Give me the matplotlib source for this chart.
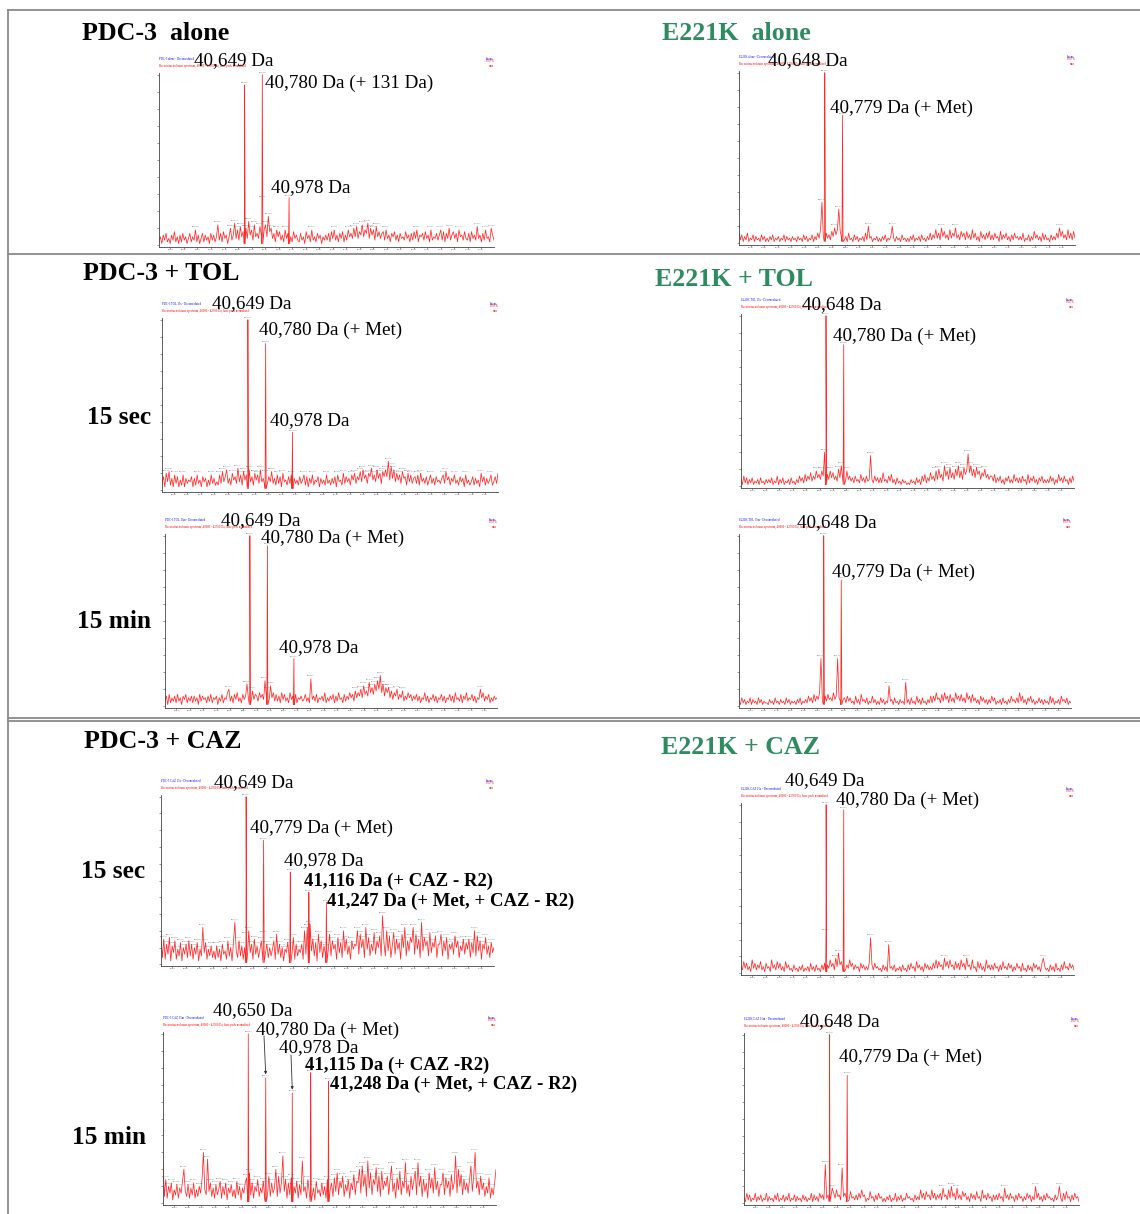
import numpy as np
import matplotlib.pyplot as plt
from matplotlib.lines import Line2D

W, H = 1140, 1214
MASS_MIN, MASS_MAX = 40015, 42495
GREEN = '#2e8b5f'
RED = '#ff2a2a'

# baseline noise, % of base peak, 240 evenly spaced points
noise_pdc3_alone = [
    2, 5, 1, 6, 3, 7, 2, 4, 1, 6, 3, 8, 2, 5, 1, 6, 2, 7, 3, 5,
    1, 4, 7, 2, 5, 3, 9, 2, 6, 1, 4, 7, 2, 6, 3, 5, 1, 7, 3, 6,
    2, 5, 12, 3, 7, 2, 8, 4, 6, 1, 5, 10, 3, 6, 13, 4, 9, 3, 11, 5,
    8, 3, 10, 4, 14, 6, 9, 3, 12, 5, 7, 4, 11, 6, 27, 9, 12, 5, 17, 8,
    10, 4, 7, 2, 9, 5, 8, 3, 6, 2, 9, 4, 7, 3, 5, 2, 8, 4, 6, 3,
    2, 7, 3, 5, 1, 8, 4, 6, 2, 9, 3, 5, 2, 7, 4, 6, 1, 5, 3, 6,
    3, 7, 2, 8, 4, 9, 3, 6, 2, 7, 4, 8, 2, 6, 3, 9, 5, 7, 4, 10,
    5, 11, 4, 8, 6, 12, 5, 9, 7, 13, 4, 10, 6, 9, 3, 11, 5, 8, 4, 7,
    8, 3, 9, 4, 6, 2, 7, 5, 8, 3, 6, 2, 7, 4, 5, 3, 8, 4, 6, 2,
    7, 3, 8, 4, 9, 2, 6, 5, 7, 3, 8, 4, 6, 2, 9, 3, 5, 4, 7, 3,
    6, 9, 3, 8, 2, 7, 4, 10, 3, 6, 8, 4, 7, 2, 9, 5, 6, 3, 8, 4,
    3, 7, 2, 8, 4, 6, 3, 11, 4, 6, 2, 7, 3, 9, 4, 5, 2, 10, 6, 3]
noise_e221k_alone = [
    7, 2, 5, 1, 4, 2, 6, 1, 3, 2, 5, 1, 4, 2, 3, 1, 5, 2, 4, 1,
    3, 1, 4, 2, 5, 1, 3, 2, 4, 1, 3, 2, 5, 1, 4, 2, 3, 1, 4, 2,
    3, 1, 4, 2, 3, 1, 5, 2, 4, 1, 3, 2, 5, 1, 4, 2, 6, 3, 8, 24,
    4, 2, 6, 3, 5, 2, 7, 4, 9, 5, 8, 20, 7, 3, 5, 2, 4, 1, 6, 2,
    3, 1, 5, 2, 4, 1, 3, 2, 4, 1, 6, 2, 10, 3, 4, 1, 3, 2, 4, 1,
    3, 1, 4, 2, 5, 1, 3, 2, 4, 10, 3, 1, 4, 2, 3, 1, 5, 2, 3, 1,
    3, 1, 4, 2, 5, 1, 3, 2, 4, 1, 5, 2, 3, 1, 4, 2, 6, 2, 5, 3,
    8, 3, 6, 2, 9, 4, 7, 3, 5, 2, 8, 3, 6, 4, 9, 3, 5, 2, 7, 4,
    6, 2, 7, 3, 5, 2, 8, 3, 6, 2, 4, 1, 7, 3, 5, 2, 6, 3, 7, 2,
    5, 2, 6, 3, 4, 1, 7, 2, 5, 3, 6, 2, 4, 1, 5, 2, 6, 3, 4, 2,
    4, 2, 6, 1, 3, 2, 5, 1, 4, 2, 7, 3, 5, 2, 4, 1, 6, 2, 5, 2,
    3, 1, 5, 2, 4, 2, 6, 3, 9, 4, 7, 3, 5, 2, 8, 3, 6, 2, 7, 3]
noise_pdc3_tol_sec = [
    4, 8, 2, 10, 5, 11, 3, 7, 2, 9, 4, 8, 2, 6, 3, 9, 2, 7, 4, 6,
    5, 8, 2, 7, 3, 9, 4, 6, 2, 8, 5, 7, 2, 6, 3, 9, 4, 7, 3, 5,
    3, 9, 4, 11, 5, 8, 12, 4, 7, 3, 10, 6, 8, 4, 13, 5, 9, 3, 11, 6,
    9, 4, 12, 5, 8, 3, 10, 6, 9, 4, 12, 5, 7, 3, 10, 4, 8, 5, 11, 4,
    7, 3, 9, 4, 8, 2, 10, 5, 6, 3, 8, 4, 9, 2, 7, 4, 6, 3, 8, 4,
    6, 9, 3, 8, 2, 7, 4, 9, 3, 6, 5, 8, 2, 7, 4, 6, 3, 9, 4, 6,
    3, 7, 4, 8, 2, 9, 5, 6, 3, 10, 4, 8, 5, 7, 3, 9, 6, 10, 4, 8,
    6, 11, 5, 12, 7, 9, 4, 10, 8, 13, 6, 9, 5, 12, 7, 10, 4, 11, 8, 12,
    8, 17, 6, 14, 7, 12, 5, 10, 6, 9, 4, 11, 7, 8, 3, 10, 5, 9, 4, 7,
    8, 4, 9, 3, 10, 5, 7, 4, 8, 3, 6, 9, 4, 7, 3, 8, 5, 6, 4, 7,
    9, 4, 11, 6, 8, 3, 7, 5, 9, 4, 6, 3, 8, 5, 7, 2, 9, 4, 6, 3,
    5, 8, 3, 7, 4, 6, 2, 10, 5, 8, 3, 7, 4, 6, 9, 3, 5, 8, 4, 10]
noise_pdc3_tol_min = [
    3, 6, 1, 7, 2, 5, 3, 6, 2, 7, 3, 5, 1, 6, 4, 7, 2, 5, 3, 6,
    2, 6, 3, 5, 1, 7, 3, 6, 4, 5, 2, 6, 3, 7, 2, 5, 4, 6, 1, 5,
    3, 7, 2, 5, 4, 8, 10, 3, 6, 2, 7, 4, 8, 3, 5, 2, 7, 4, 6, 13,
    5, 8, 3, 9, 4, 7, 6, 3, 8, 5, 7, 4, 15, 6, 9, 4, 12, 5, 8, 3,
    7, 3, 6, 2, 8, 4, 7, 3, 5, 2, 8, 4, 6, 3, 7, 2, 5, 4, 6, 3,
    4, 7, 3, 5, 2, 16, 4, 6, 3, 7, 2, 5, 4, 6, 3, 8, 2, 5, 3, 6,
    4, 7, 2, 6, 3, 8, 4, 5, 2, 7, 3, 6, 4, 8, 5, 7, 3, 9, 5, 8,
    6, 10, 5, 12, 7, 9, 6, 14, 8, 11, 7, 13, 9, 15, 10, 18, 8, 13, 6, 11,
    8, 11, 5, 9, 4, 8, 6, 10, 4, 7, 5, 9, 3, 6, 4, 8, 5, 7, 3, 6,
    4, 7, 3, 6, 2, 5, 4, 8, 3, 6, 2, 5, 4, 7, 3, 6, 2, 5, 4, 7,
    3, 6, 2, 5, 4, 7, 3, 6, 2, 8, 4, 5, 3, 7, 2, 6, 4, 8, 3, 5,
    4, 7, 3, 6, 2, 5, 4, 10, 5, 8, 3, 6, 4, 7, 2, 5, 3, 6, 4, 5]
noise_e221k_tol_sec = [
    4, 1, 6, 2, 5, 1, 4, 2, 5, 1, 3, 2, 4, 1, 5, 2, 3, 1, 4, 2,
    4, 2, 5, 1, 3, 2, 6, 1, 4, 2, 5, 1, 3, 2, 4, 1, 5, 2, 3, 1,
    4, 2, 6, 3, 5, 2, 7, 3, 6, 4, 8, 3, 6, 4, 9, 5, 7, 4, 9, 6,
    20, 5, 7, 4, 9, 5, 8, 4, 6, 3, 10, 5, 12, 4, 7, 3, 9, 4, 6, 3,
    5, 2, 6, 3, 4, 2, 7, 3, 5, 2, 6, 3, 4, 18, 4, 2, 6, 3, 5, 2,
    5, 2, 8, 3, 4, 2, 6, 3, 7, 2, 4, 1, 5, 2, 3, 1, 4, 2, 3, 1,
    2, 1, 4, 2, 3, 1, 5, 2, 4, 1, 6, 3, 7, 2, 5, 3, 8, 4, 6, 3,
    9, 4, 10, 5, 7, 3, 12, 6, 9, 4, 11, 5, 8, 4, 10, 6, 12, 5, 9, 4,
    11, 7, 9, 19, 8, 12, 6, 10, 5, 11, 7, 9, 4, 8, 6, 10, 5, 7, 4, 6,
    6, 3, 7, 2, 5, 3, 6, 2, 4, 1, 5, 3, 6, 2, 4, 2, 7, 3, 5, 2,
    5, 2, 6, 3, 4, 1, 7, 2, 5, 3, 6, 2, 4, 1, 5, 3, 6, 2, 4, 2,
    4, 2, 6, 3, 5, 1, 4, 2, 7, 3, 5, 2, 6, 3, 4, 1, 5, 2, 6, 3]
noise_e221k_tol_min = [
    3, 1, 5, 2, 4, 1, 3, 2, 5, 1, 4, 2, 3, 1, 5, 2, 4, 1, 3, 2,
    2, 1, 4, 2, 3, 1, 5, 2, 3, 1, 4, 2, 3, 1, 5, 2, 4, 1, 3, 2,
    3, 1, 4, 2, 5, 1, 3, 2, 4, 2, 6, 3, 5, 2, 7, 3, 6, 4, 8, 28,
    4, 2, 6, 3, 7, 4, 5, 3, 8, 4, 6, 28, 5, 3, 7, 4, 5, 2, 6, 3,
    5, 2, 3, 1, 6, 2, 4, 1, 7, 3, 4, 2, 5, 1, 3, 2, 6, 2, 4, 1,
    3, 1, 5, 2, 4, 1, 3, 2, 12, 3, 4, 1, 5, 2, 3, 1, 4, 2, 3, 1,
    14, 2, 4, 1, 5, 2, 3, 1, 6, 2, 4, 1, 5, 2, 3, 1, 4, 2, 6, 2,
    6, 3, 8, 4, 5, 2, 7, 3, 8, 4, 6, 2, 7, 3, 5, 2, 8, 4, 6, 3,
    7, 3, 5, 2, 8, 4, 6, 2, 7, 3, 5, 2, 4, 1, 6, 3, 5, 2, 4, 1,
    4, 2, 6, 3, 5, 1, 3, 2, 4, 1, 5, 2, 3, 1, 4, 2, 6, 3, 4, 2,
    5, 2, 8, 3, 6, 2, 4, 1, 5, 3, 6, 2, 4, 1, 3, 2, 5, 2, 4, 1,
    4, 2, 3, 1, 6, 2, 5, 1, 3, 2, 4, 1, 6, 3, 4, 2, 5, 1, 3, 2]
noise_pdc3_caz_sec = [
    18, 4, 15, 3, 12, 6, 16, 2, 11, 7, 14, 3, 9, 5, 13, 2, 10, 6, 12, 4,
    14, 5, 12, 3, 10, 6, 13, 2, 9, 5, 22, 7, 13, 3, 9, 5, 11, 4, 8, 3,
    11, 4, 9, 2, 12, 6, 8, 3, 14, 5, 10, 2, 13, 25, 8, 4, 14, 5, 11, 3,
    10, 17, 5, 20, 7, 12, 3, 15, 6, 11, 4, 9, 14, 3, 18, 7, 12, 4, 10, 5,
    9, 14, 3, 18, 6, 12, 4, 10, 2, 9, 7, 13, 4, 11, 6, 16, 3, 12, 5, 9,
    7, 12, 3, 20, 6, 22, 4, 24, 8, 15, 5, 13, 2, 18, 7, 14, 4, 11, 6, 10,
    8, 18, 5, 14, 9, 12, 3, 16, 7, 13, 4, 20, 8, 15, 6, 11, 3, 14, 9, 12,
    11, 20, 6, 18, 10, 15, 4, 22, 9, 16, 5, 12, 8, 19, 6, 14, 10, 17, 5, 29,
    13, 5, 20, 8, 17, 4, 11, 19, 6, 15, 9, 13, 3, 18, 10, 22, 5, 14, 8, 16,
    13, 22, 6, 18, 9, 15, 4, 25, 8, 16, 11, 14, 5, 19, 7, 13, 10, 17, 4, 12,
    12, 18, 5, 14, 8, 16, 3, 12, 9, 13, 6, 17, 10, 14, 4, 11, 8, 15, 6, 13,
    9, 15, 4, 13, 7, 20, 5, 17, 8, 14, 3, 12, 9, 16, 6, 11, 4, 13, 7, 10]
noise_e221k_caz_sec = [
    4, 2, 7, 3, 6, 2, 4, 1, 8, 3, 6, 2, 5, 3, 7, 2, 4, 1, 6, 3,
    4, 1, 8, 3, 5, 2, 7, 3, 6, 2, 4, 1, 7, 3, 5, 2, 3, 1, 5, 2,
    3, 1, 4, 2, 5, 1, 3, 2, 4, 1, 6, 2, 4, 1, 5, 2, 3, 1, 5, 2,
    6, 24, 5, 3, 8, 4, 6, 2, 9, 4, 12, 5, 7, 3, 6, 2, 5, 3, 8, 4,
    6, 2, 5, 3, 4, 1, 6, 3, 5, 2, 4, 2, 6, 21, 5, 2, 6, 3, 4, 2,
    3, 1, 5, 2, 4, 1, 17, 3, 4, 2, 5, 1, 3, 2, 4, 1, 5, 2, 3, 1,
    5, 2, 6, 3, 4, 1, 7, 3, 5, 2, 4, 1, 6, 3, 5, 2, 4, 2, 6, 3,
    8, 3, 7, 4, 5, 2, 9, 4, 7, 3, 8, 4, 5, 2, 7, 3, 6, 2, 8, 4,
    6, 2, 9, 4, 5, 2, 8, 3, 4, 1, 7, 3, 6, 2, 4, 1, 8, 3, 5, 2,
    5, 2, 6, 3, 4, 1, 5, 2, 7, 3, 4, 2, 6, 3, 5, 1, 4, 2, 6, 3,
    4, 1, 6, 2, 3, 1, 5, 2, 4, 1, 6, 3, 5, 2, 4, 1, 6, 9, 4, 2,
    3, 1, 5, 2, 4, 1, 6, 2, 3, 1, 5, 2, 7, 3, 4, 2, 6, 3, 5, 2]
noise_pdc3_caz_min = [
    25, 4, 14, 3, 10, 6, 12, 2, 8, 5, 11, 3, 9, 6, 13, 20, 7, 4, 11, 3,
    9, 5, 12, 3, 8, 4, 10, 6, 14, 30, 8, 5, 26, 7, 12, 4, 9, 3, 11, 5,
    8, 13, 3, 10, 5, 12, 2, 9, 6, 11, 4, 8, 3, 13, 5, 10, 2, 9, 6, 12,
    15, 4, 18, 5, 12, 3, 10, 7, 14, 4, 9, 6, 13, 3, 11, 5, 16, 4, 12, 6,
    9, 20, 4, 16, 6, 12, 28, 7, 14, 3, 12, 5, 15, 4, 10, 6, 13, 3, 11, 5,
    25, 7, 10, 3, 14, 6, 11, 4, 9, 2, 13, 6, 8, 4, 12, 5, 10, 3, 14, 6,
    8, 12, 4, 15, 7, 18, 5, 13, 9, 16, 4, 11, 7, 14, 3, 12, 8, 17, 5, 13,
    12, 20, 6, 22, 10, 17, 4, 25, 9, 18, 5, 14, 11, 21, 7, 16, 4, 19, 8, 13,
    10, 16, 5, 14, 22, 7, 12, 3, 15, 8, 19, 5, 13, 9, 24, 6, 11, 4, 16, 8,
    13, 19, 5, 24, 10, 16, 4, 14, 7, 12, 3, 18, 9, 15, 6, 21, 8, 13, 4, 11,
    11, 18, 5, 15, 9, 13, 4, 17, 8, 12, 28, 6, 20, 10, 17, 5, 14, 8, 12, 6,
    14, 22, 7, 16, 30, 9, 13, 5, 16, 8, 12, 4, 10, 6, 15, 3, 9, 5, 12, 20]
noise_e221k_caz_min = [
    3, 1, 6, 2, 5, 1, 3, 2, 6, 1, 4, 2, 5, 1, 3, 2, 6, 1, 4, 2,
    3, 1, 5, 2, 6, 1, 3, 2, 5, 1, 4, 2, 6, 1, 3, 2, 5, 1, 4, 2,
    3, 1, 5, 2, 4, 1, 3, 2, 6, 1, 5, 2, 4, 1, 6, 3, 5, 2, 23, 3,
    5, 2, 4, 9, 6, 3, 8, 4, 5, 2, 21, 4, 6, 3, 5, 2, 7, 3, 4, 2,
    5, 2, 6, 3, 8, 4, 5, 1, 3, 2, 7, 3, 4, 1, 5, 2, 6, 3, 4, 1,
    3, 1, 4, 2, 5, 1, 3, 2, 6, 1, 4, 2, 5, 1, 3, 2, 6, 3, 4, 2,
    3, 1, 5, 2, 4, 2, 8, 3, 6, 2, 7, 4, 5, 2, 8, 3, 6, 2, 5, 3,
    6, 2, 9, 4, 5, 2, 8, 3, 10, 4, 6, 2, 9, 3, 5, 2, 7, 4, 6, 2,
    4, 1, 6, 3, 5, 2, 7, 3, 4, 1, 8, 3, 5, 2, 6, 3, 4, 1, 5, 2,
    5, 2, 6, 3, 4, 1, 9, 3, 5, 2, 6, 3, 4, 1, 5, 2, 6, 3, 4, 1,
    4, 2, 6, 3, 5, 1, 4, 2, 10, 3, 6, 2, 4, 1, 5, 2, 6, 3, 4, 2,
    3, 1, 5, 2, 4, 10, 3, 1, 6, 2, 7, 3, 4, 1, 5, 2, 6, 3, 4, 1]

# labelled peaks (Da) and their heights (% of base peak)
peaks_pdc3_alone = [40649, 40780, 40978]
heights_pdc3_alone = [94, 100, 28]
peaks_e221k_alone = [40648, 40779]
heights_e221k_alone = [100, 75]
peaks_pdc3_tol_sec = [40649, 40780, 40978]
heights_pdc3_tol_sec = [100, 86, 34]
peaks_pdc3_tol_min = [40649, 40780, 40978]
heights_pdc3_tol_min = [100, 94, 28]
peaks_e221k_tol_sec = [40648, 40780]
heights_e221k_tol_sec = [100, 83]
peaks_e221k_tol_min = [40648, 40779]
heights_e221k_tol_min = [100, 74]
peaks_pdc3_caz_sec = [40649, 40779, 40978, 41116, 41247]
heights_pdc3_caz_sec = [100, 74, 55, 43, 37]
peaks_e221k_caz_sec = [40649, 40780]
heights_e221k_caz_sec = [100, 97]
peaks_pdc3_caz_min = [40650, 40780, 40978, 41115, 41248]
heights_pdc3_caz_min = [100, 74, 65, 77, 72]
peaks_e221k_caz_min = [40648, 40779]
heights_e221k_caz_min = [100, 76]

fig = plt.figure(figsize=(W / 100, H / 100), dpi=100)
plt.rcParams['font.family'] = ['Liberation Serif', 'DejaVu Serif']


def fx(x):
    return x / W


def fy(y):
    return 1 - y / H


def spectrum(box, noise, masses, heights, name):
    left, right, top, bottom = box
    ax = fig.add_axes([fx(left), fy(bottom), (right - left) / W, (bottom - top) / H])
    grid = np.linspace(MASS_MIN, MASS_MAX, len(noise))
    xs = list(grid)
    ys = list(noise)
    for m, h in zip(masses, heights):
        xs += [m - 4, m, m + 4]
        ys += [1, h, 1]
    order = np.argsort(xs)
    ax.plot(np.array(xs)[order], np.array(ys)[order], color=RED, lw=0.55)
    # tiny peak picks like the instrument software prints
    for i in range(1, len(noise) - 1):
        if noise[i] >= 9 and noise[i] > noise[i - 1] and noise[i] > noise[i + 1]:
            ax.text(grid[i], noise[i] + 1.5, f'{grid[i]:.1f}', fontsize=1.6,
                    color='#555', ha='center', va='bottom')
    for m, h in zip(masses, heights):
        ax.text(m, h + 1, f'{m:.1f}', fontsize=1.6, color='#555', ha='center', va='bottom')
    ax.set_xlim(MASS_MIN, MASS_MAX)
    ax.set_ylim(-1, 101)
    for s in ['top', 'right']:
        ax.spines[s].set_visible(False)
    for s in ['left', 'bottom']:
        ax.spines[s].set_color('#444')
        ax.spines[s].set_linewidth(0.6)
    ticks = np.arange(40000, 42500, 100)[1:]
    ax.set_xticks(ticks)
    ax.set_xticklabels([f'{t:.0f}' for t in ticks])
    ax.set_yticks(np.arange(0, 101, 10))
    ax.set_yticklabels([])
    ax.tick_params(labelsize=1.6, length=1.2, width=0.4, pad=0.5, colors='#444')
    ax.text(0, 1.07, name + ' - Deconvoluted', transform=ax.transAxes,
            fontsize=2.2, color='blue', va='bottom')
    ax.text(0, 1.03, 'Reconstructed mass spectrum, 40000 - 42500 Da, base peak normalised',
            transform=ax.transAxes, fontsize=2.2, color='red', va='bottom')
    ax.text(1, 1.07, 'Intens.', transform=ax.transAxes, fontsize=2.2,
            color='blue', va='bottom', ha='right')
    ax.text(1, 1.03, '100 %\nmax', transform=ax.transAxes, fontsize=2.2,
            color='red', va='bottom', ha='right')
    return ax


def label(x, y, s, bold=False, size=13.8, color='black'):
    fig.text(fx(x), fy(y), s, fontsize=size, color=color, ha='left', va='center',
             fontweight='bold' if bold else 'normal')


# frame lines
for xa, ya in [([8, 1140], [10, 10]), ([8, 8], [10, 1214]), ([8, 1140], [254, 254]),
               ([8, 1140], [718, 718]), ([8, 1140], [721, 721])]:
    fig.add_artist(Line2D([fx(v) for v in xa], [fy(v) for v in ya],
                          transform=fig.transFigure, color='#8a8a8a', lw=1.3))

spectrum((159, 494, 73, 247), noise_pdc3_alone, peaks_pdc3_alone, heights_pdc3_alone, 'PDC-3 alone')
spectrum((739, 1075, 71, 245), noise_e221k_alone, peaks_e221k_alone, heights_e221k_alone, 'E221K alone')
spectrum((162, 498, 318, 492), noise_pdc3_tol_sec, peaks_pdc3_tol_sec, heights_pdc3_tol_sec, 'PDC-3 TOL 15s')
spectrum((165, 497, 534, 708), noise_pdc3_tol_min, peaks_pdc3_tol_min, heights_pdc3_tol_min, 'PDC-3 TOL 15m')
spectrum((741, 1074, 314, 488), noise_e221k_tol_sec, peaks_e221k_tol_sec, heights_e221k_tol_sec, 'E221K TOL 15s')
spectrum((739, 1071, 534, 708), noise_e221k_tol_min, peaks_e221k_tol_min, heights_e221k_tol_min, 'E221K TOL 15m')
spectrum((161, 494, 795, 966), noise_pdc3_caz_sec, peaks_pdc3_caz_sec, heights_pdc3_caz_sec, 'PDC-3 CAZ 15s')
spectrum((741, 1074, 803, 975), noise_e221k_caz_sec, peaks_e221k_caz_sec, heights_e221k_caz_sec, 'E221K CAZ 15s')
ax9 = spectrum((163, 496, 1032, 1205), noise_pdc3_caz_min, peaks_pdc3_caz_min, heights_pdc3_caz_min, 'PDC-3 CAZ 15m')
spectrum((744, 1079, 1033, 1205), noise_e221k_caz_min, peaks_e221k_caz_min, heights_e221k_caz_min, 'E221K CAZ 15m')

# headings
label(82, 33, 'PDC-3  alone', bold=True, size=18.6)
label(662, 33, 'E221K  alone', bold=True, size=18.6, color=GREEN)
label(83, 274, 'PDC-3 + TOL', bold=True, size=18.6)
label(655, 279, 'E221K + TOL', bold=True, size=18.6, color=GREEN)
label(84, 741, 'PDC-3 + CAZ', bold=True, size=18.6)
label(661, 748, 'E221K + CAZ', bold=True, size=18.6, color=GREEN)
label(87, 418, '15 sec', bold=True, size=18.3)
label(77, 621, '15 min', bold=True, size=18.3)
label(81, 871, '15 sec', bold=True, size=18.3)
label(72, 1137, '15 min', bold=True, size=18.3)

# peak annotations
label(194, 61, '40,649 Da')
label(265, 83, '40,780 Da (+ 131 Da)')
label(271, 188, '40,978 Da')
label(768, 61, '40,648 Da')
label(830, 108, '40,779 Da (+ Met)')
label(212, 304, '40,649 Da')
label(259, 330, '40,780 Da (+ Met)')
label(270, 421, '40,978 Da')
label(221, 521, '40,649 Da')
label(261, 538, '40,780 Da (+ Met)')
label(279, 648, '40,978 Da')
label(802, 305, '40,648 Da')
label(833, 336, '40,780 Da (+ Met)')
label(797, 523, '40,648 Da')
label(832, 572, '40,779 Da (+ Met)')
label(214, 783, '40,649 Da')
label(250, 828, '40,779 Da (+ Met)')
label(284, 861, '40,978 Da')
label(304, 881, '41,116 Da (+ CAZ - R2)', bold=True, size=13.5)
label(327, 901, '41,247 Da (+ Met, + CAZ - R2)', bold=True, size=13.5)
label(785, 781, '40,649 Da')
label(836, 800, '40,780 Da (+ Met)')
label(213, 1011, '40,650 Da')
label(256, 1030, '40,780 Da (+ Met)')
label(279, 1048, '40,978 Da')
label(305, 1065, '41,115 Da (+ CAZ -R2)', bold=True, size=13.5)
label(330, 1084, '41,248 Da (+ Met, + CAZ - R2)', bold=True, size=13.5)
label(800, 1022, '40,648 Da')
label(839, 1057, '40,779 Da (+ Met)')

# arrows from the labels down to the peaks in the 15 min CAZ spectrum
for (m, h), (x0, y0) in zip(list(zip(peaks_pdc3_caz_min, heights_pdc3_caz_min))[:3],
                            [(249, 1018), (264, 1036), (291, 1055)]):
    ax9.annotate('', xy=(m, h + 2), xycoords='data', xytext=(fx(x0), fy(y0)),
                 textcoords='figure fraction',
                 arrowprops=dict(arrowstyle='-|>', color='#333', lw=0.6,
                                 mutation_scale=4, shrinkA=0, shrinkB=0))

fig.savefig('out.png', dpi=100)
